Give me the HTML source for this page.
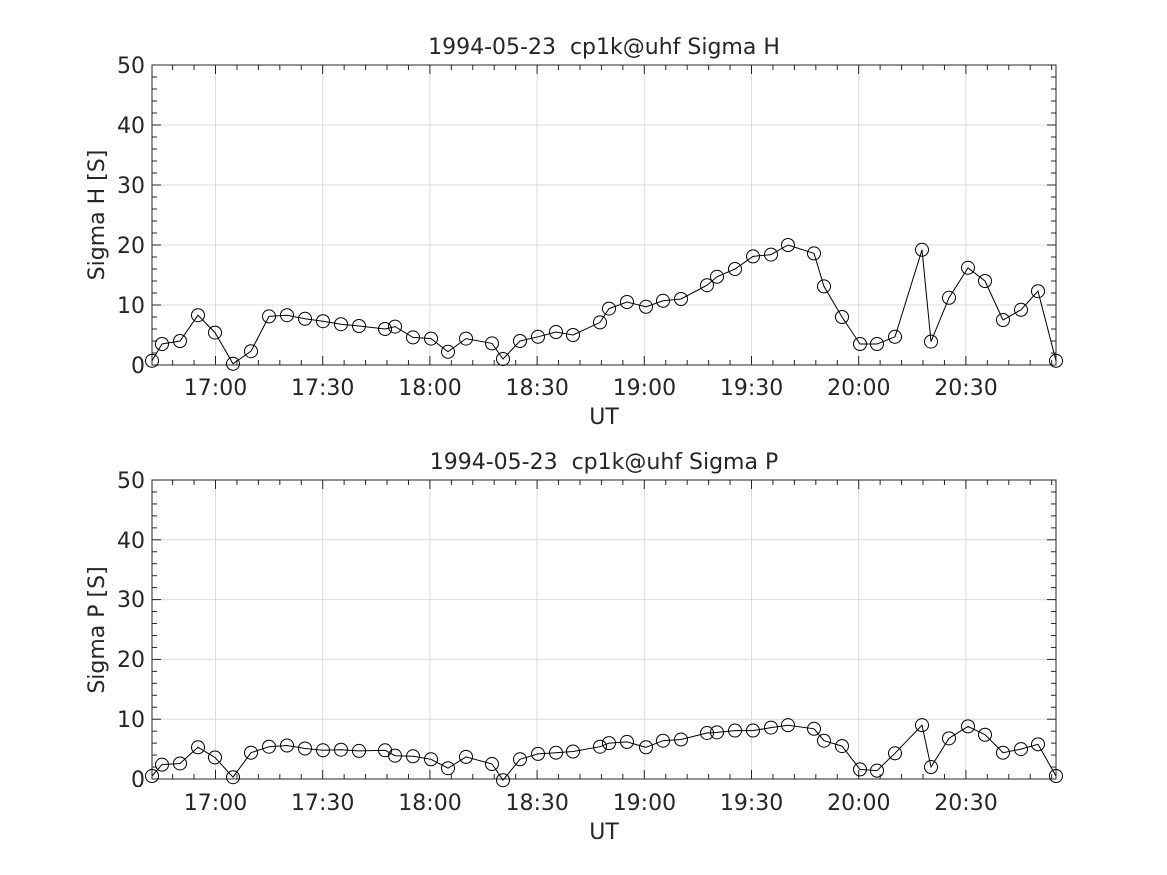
<!DOCTYPE html>
<html><head><meta charset="utf-8"><style>
html,body{margin:0;padding:0;background:#fff;}
svg{display:block;font-family:"DejaVu Sans","Liberation Sans",sans-serif;}
.t{white-space:pre;}
</style></head><body>
<svg id="s" width="1167" height="875" viewBox="0 0 1167 875" xmlns="http://www.w3.org/2000/svg">
<rect width="1167" height="875" fill="#fff"/>
<g id="g1"></g>
<g font-size="22" fill="#262626" text-anchor="middle">
<text class="t" x="604" y="54" xml:space="preserve">1994-05-23  cp1k@uhf Sigma H</text>
<text class="t" x="604" y="469" xml:space="preserve">1994-05-23  cp1k@uhf Sigma P</text>
<text x="604" y="424">UT</text>
<text x="604" y="839">UT</text>
<text transform="translate(104,215) rotate(-90)">Sigma H [S]</text>
<text transform="translate(104,630) rotate(-90)">Sigma P [S]</text>
<g text-anchor="end">
<text x="145" y="373">0</text><text x="145" y="313">10</text><text x="145" y="253">20</text><text x="145" y="193">30</text><text x="145" y="133">40</text><text x="145" y="73">50</text>
<text x="145" y="787">0</text><text x="145" y="727">10</text><text x="145" y="667">20</text><text x="145" y="607">30</text><text x="145" y="548">40</text><text x="145" y="488">50</text>
</g>
<text x="215.5" y="395">17:00</text><text x="322.7" y="395">17:30</text><text x="430" y="395">18:00</text><text x="537.2" y="395">18:30</text><text x="644.4" y="395">19:00</text><text x="751.6" y="395">19:30</text><text x="858.8" y="395">20:00</text><text x="966" y="395">20:30</text>
<text x="215.5" y="810">17:00</text><text x="322.7" y="810">17:30</text><text x="430" y="810">18:00</text><text x="537.2" y="810">18:30</text><text x="644.4" y="810">19:00</text><text x="751.6" y="810">19:30</text><text x="858.8" y="810">20:00</text><text x="966" y="810">20:30</text>
</g>
</svg>
<script>
(function(){
var NS="http://www.w3.org/2000/svg",g=document.getElementById("g1");
function el(t,a){var e=document.createElementNS(NS,t);for(var k in a)e.setAttribute(k,a[k]);g.appendChild(e);return e;}
var X0=152,X1=1056,px=3.5733,t17=215.5;
var dTop=[[152,0.7],[162,3.5],[180,4],[198,8.3],[215,5.4],[233,0.2],[251,2.3],[269,8.1],[287,8.3],[305,7.7],[323,7.3],[341,6.8],[359,6.5],[385,6],[395,6.4],[413,4.6],[431,4.4],[448,2.2],[466,4.4],[492,3.6],[503,1],[520,4],[538,4.7],[556,5.5],[573,5],[600,7.1],[609,9.4],[627,10.5],[646,9.7],[663,10.7],[681,11],[707,13.3],[717,14.7],[735,16],[753,18.1],[771,18.4],[788,20],[814,18.6],[824,13.1],[842,8],[860,3.5],[877,3.5],[895,4.7],[922,19.2],[931,3.9],[949,11.2],[968,16.2],[985,14],[1003,7.5],[1021,9.2],[1038,12.3],[1056,0.7]];
var dBot=[[152,0.5],[162,2.4],[180,2.6],[198,5.3],[215,3.6],[233,0.3],[251,4.4],[269,5.4],[287,5.6],[305,5.1],[323,4.8],[341,4.9],[359,4.7],[385,4.8],[395,3.9],[413,3.8],[431,3.3],[448,1.8],[466,3.7],[492,2.5],[503,-0.2],[520,3.3],[538,4.2],[556,4.4],[573,4.6],[600,5.4],[609,6],[627,6.2],[646,5.3],[663,6.4],[681,6.6],[707,7.7],[717,7.8],[735,8.1],[753,8.1],[771,8.6],[788,9],[814,8.4],[824,6.4],[842,5.5],[860,1.6],[877,1.4],[895,4.3],[922,9],[931,2],[949,6.8],[968,8.8],[985,7.4],[1003,4.4],[1021,5],[1038,5.8],[1056,0.5]];
function axes(Y0,Y1,data){
 var sc=(Y1-Y0)/50;
 for(var v=10;v<50;v+=10){var y=Y1-v*sc;el("line",{x1:X0,x2:X1,y1:y,y2:y,stroke:"#dcdcdc","stroke-width":1});}
 for(var i=0;i<8;i++){var x=t17+i*30*px;el("line",{x1:x,x2:x,y1:Y0,y2:Y1,stroke:"#dcdcdc","stroke-width":1});}
 el("rect",{x:X0,y:Y0,width:X1-X0,height:Y1-Y0,fill:"none",stroke:"#262626","stroke-width":1});
 for(var m=-18;m<=240;m+=6){var x=t17+m*px;if(x<X0||x>X1)continue;var L=(m%30==0)?9:5;
  el("line",{x1:x,x2:x,y1:Y1,y2:Y1-L,stroke:"#262626"});el("line",{x1:x,x2:x,y1:Y0,y2:Y0+L,stroke:"#262626"});}
 for(var v=0;v<=50;v+=2){var y=Y1-v*sc;var L=(v%10==0)?9:5;
  el("line",{x1:X0,x2:X0+L,y1:y,y2:y,stroke:"#262626"});el("line",{x1:X1,x2:X1-L,y1:y,y2:y,stroke:"#262626"});}
 var pts=data.map(function(p){return p[0]+","+(Y1-p[1]*sc).toFixed(1);}).join(" ");
 el("polyline",{points:pts,fill:"none",stroke:"#000","stroke-width":1});
 data.forEach(function(p){el("circle",{cx:p[0],cy:(Y1-p[1]*sc),r:6.5,fill:"none",stroke:"#000","stroke-width":1});});
}
axes(65,365,dTop);
axes(480,779,dBot);
})();
</script>
</body></html>
